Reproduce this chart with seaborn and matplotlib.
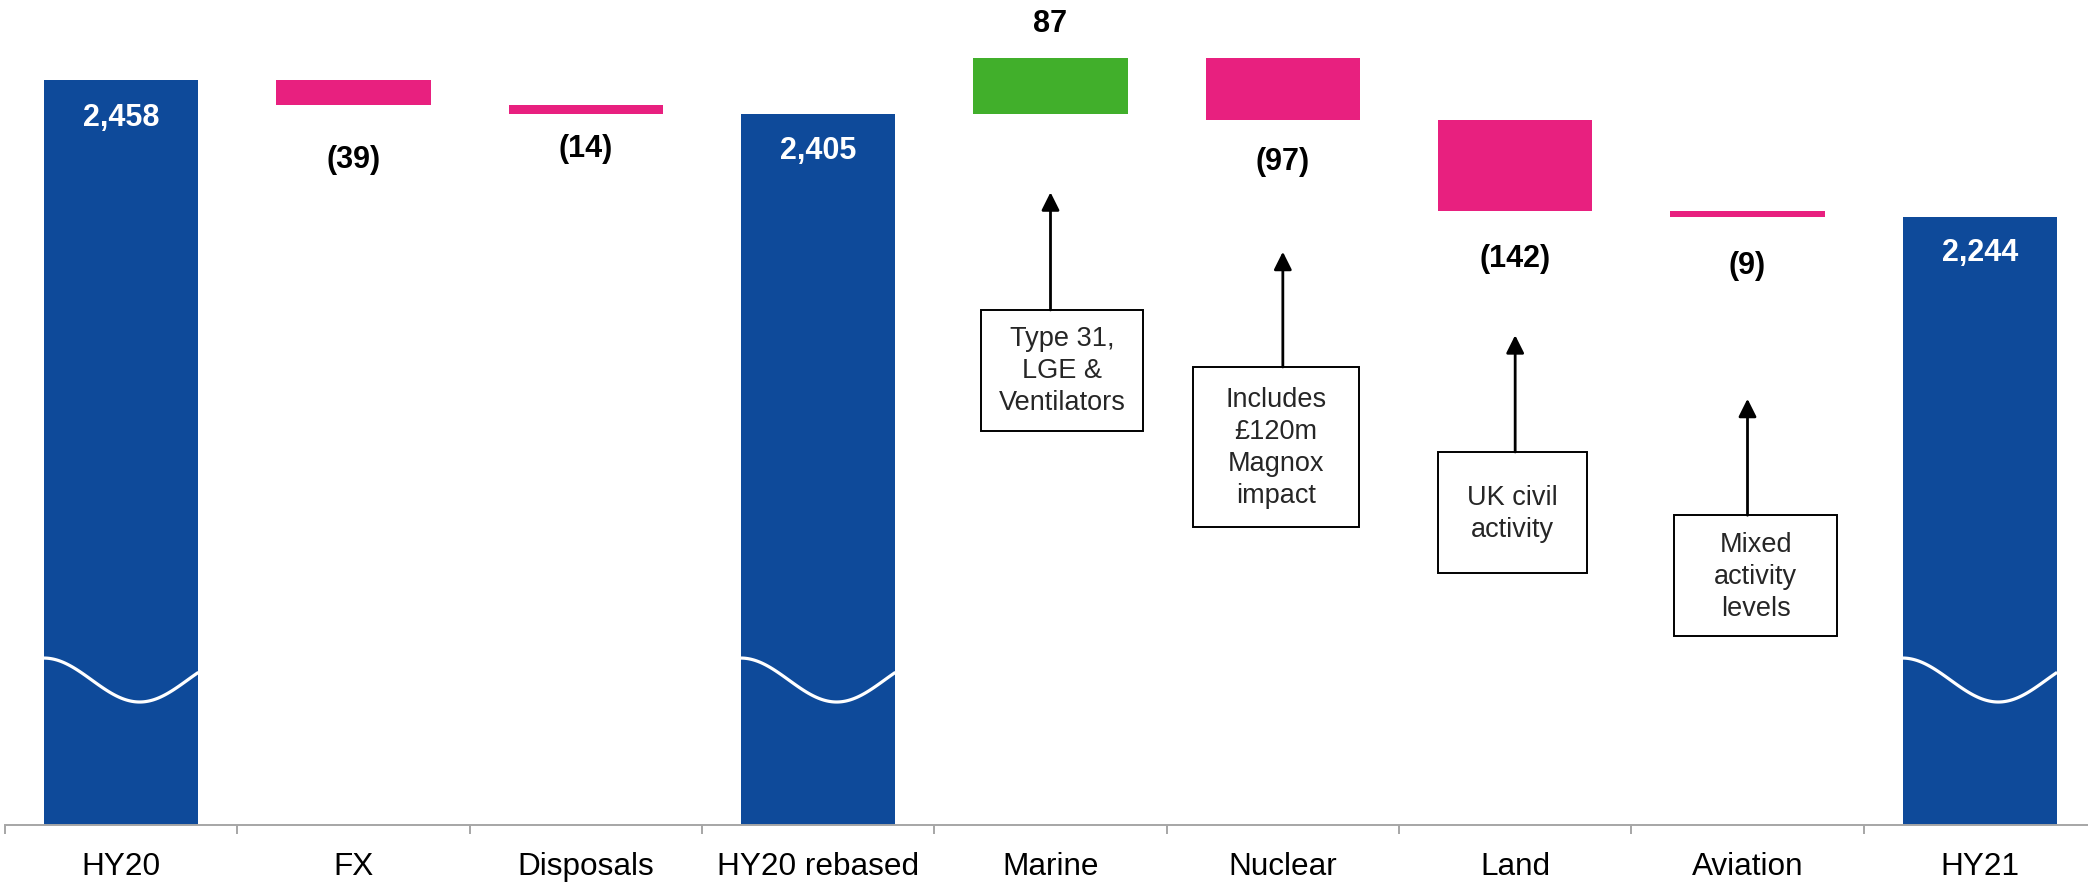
import numpy as np
import pandas as pd
import matplotlib.pyplot as plt
from matplotlib.patches import Rectangle
from matplotlib.ticker import FixedLocator
import seaborn as sns

# data
categories = ['HY20', 'FX', 'Disposals', 'HY20 rebased', 'Marine', 'Nuclear', 'Land', 'Aviation', 'HY21']
values = [2458, -39, -14, 2405, 87, -97, -142, -9, 2244]
is_total = [True, False, False, True, False, False, False, False, True]

note_cats = ['Marine', 'Nuclear', 'Land', 'Aviation']
notes = ['Type 31,\nLGE &\nVentilators',
         'Includes\n£120m\nMagnox\nimpact',
         'UK civil\nactivity',
         'Mixed\nactivity\nlevels']

# layout (pixels / axes fractions)
label_gap_px = [37, 54, 34, 36, 35, 41, 47, 48, 35]
box_dx = [0.05, -0.03, -0.01, 0.035]
box_w = [0.70, 0.715, 0.64, 0.70]
box_lo = [0.477, 0.361, 0.305, 0.229]
box_hi = [0.6235, 0.5545, 0.4516, 0.375]
arrow_tip = [0.766, 0.694, 0.593, 0.516]

blue = '#0E4A9A'
pink = '#E8207F'
green = '#41AF2B'
bar_w = 0.665

# waterfall pieces
bottoms, heights, colors, labels = [], [], [], []
level = 0
for v, tot in zip(values, is_total):
    if tot:
        level = v
        bottoms.append(0)
        heights.append(v)
        colors.append(blue)
        labels.append(f'{v:,}')
    else:
        new = level + v
        bottoms.append(min(level, new))
        heights.append(abs(v))
        colors.append(green if v > 0 else pink)
        labels.append(f'{v}' if v > 0 else f'({-v})')
        level = new

df = pd.DataFrame({'cat': categories, 'height': heights})

sns.set_style('white')
plt.rcParams['font.family'] = ['Liberation Sans', 'DejaVu Sans']

fig = plt.figure(figsize=(20.88, 8.87), dpi=100)
ax = fig.add_axes([5 / 2088, 61 / 887, 2091 / 2088, 826 / 887])

sns.barplot(data=df, x='cat', y='height', order=categories, bottom=bottoms,
            width=bar_w, color=blue, saturation=1, errorbar=None,
            linewidth=0, ax=ax)
for p, c in zip(ax.patches, colors):
    p.set_facecolor(c)
    p.set_edgecolor(c)

ax.set_xlim(-0.5, 8.5)
ax.set_ylim(1294, 2584.5)
ax.set_xlabel('')
ax.set_ylabel('')
ax.set_yticks([])

sns.despine(ax=ax, left=True)
ax.spines['bottom'].set_color('#A6A6A6')
ax.spines['bottom'].set_linewidth(1.4)
ax.xaxis.set_minor_locator(FixedLocator(np.arange(-0.5, 9, 1)))
ax.tick_params(axis='x', which='major', length=0, pad=19, labelsize=22.7, labelcolor='black')
ax.tick_params(axis='x', which='minor', bottom=True, length=6.5, width=1.4,
               color='#A6A6A6', direction='out')

xform = ax.get_xaxis_transform()

# broken-axis waves on the total bars
theta = np.linspace(0, 5.07, 120)
for i, tot in enumerate(is_total):
    if tot:
        xs = np.linspace(i - bar_w / 2, i + bar_w / 2, 120)
        ax.plot(xs, 0.1755 + 0.0266 * np.cos(theta), transform=xform,
                color='white', lw=2.3, solid_capstyle='butt')

# value labels
for i, (lab, b, h, tot) in enumerate(zip(labels, bottoms, heights, is_total)):
    gap = label_gap_px[i] * 0.72
    if tot:
        ax.annotate(lab, (i, b + h), xytext=(0, -gap), textcoords='offset points',
                    ha='center', va='center', color='white', fontsize=22, fontweight='bold')
    elif values[i] > 0:
        ax.annotate(lab, (i, b + h), xytext=(0, gap), textcoords='offset points',
                    ha='center', va='center', color='black', fontsize=22, fontweight='bold',
                    annotation_clip=False)
    else:
        ax.annotate(lab, (i, b), xytext=(0, -gap), textcoords='offset points',
                    ha='center', va='center', color='black', fontsize=22, fontweight='bold')

# commentary boxes with arrows
for j, cat in enumerate(note_cats):
    i = categories.index(cat)
    cx = i + box_dx[j]
    ax.add_patch(Rectangle((cx - box_w[j] / 2, box_lo[j]), box_w[j], box_hi[j] - box_lo[j],
                           transform=xform, fill=False, ec='black', lw=1.4))
    ax.text(cx, (box_lo[j] + box_hi[j]) / 2, notes[j], transform=xform,
            ha='center', va='center', multialignment='center',
            fontsize=19.5, linespacing=1.3)
    ax.annotate('', xy=(i, arrow_tip[j]), xytext=(i, box_hi[j]),
                xycoords=xform, textcoords=xform,
                arrowprops=dict(arrowstyle='-|>', lw=2, color='black',
                                mutation_scale=27, shrinkA=0, shrinkB=0))

fig.savefig('out.png', dpi=100)
